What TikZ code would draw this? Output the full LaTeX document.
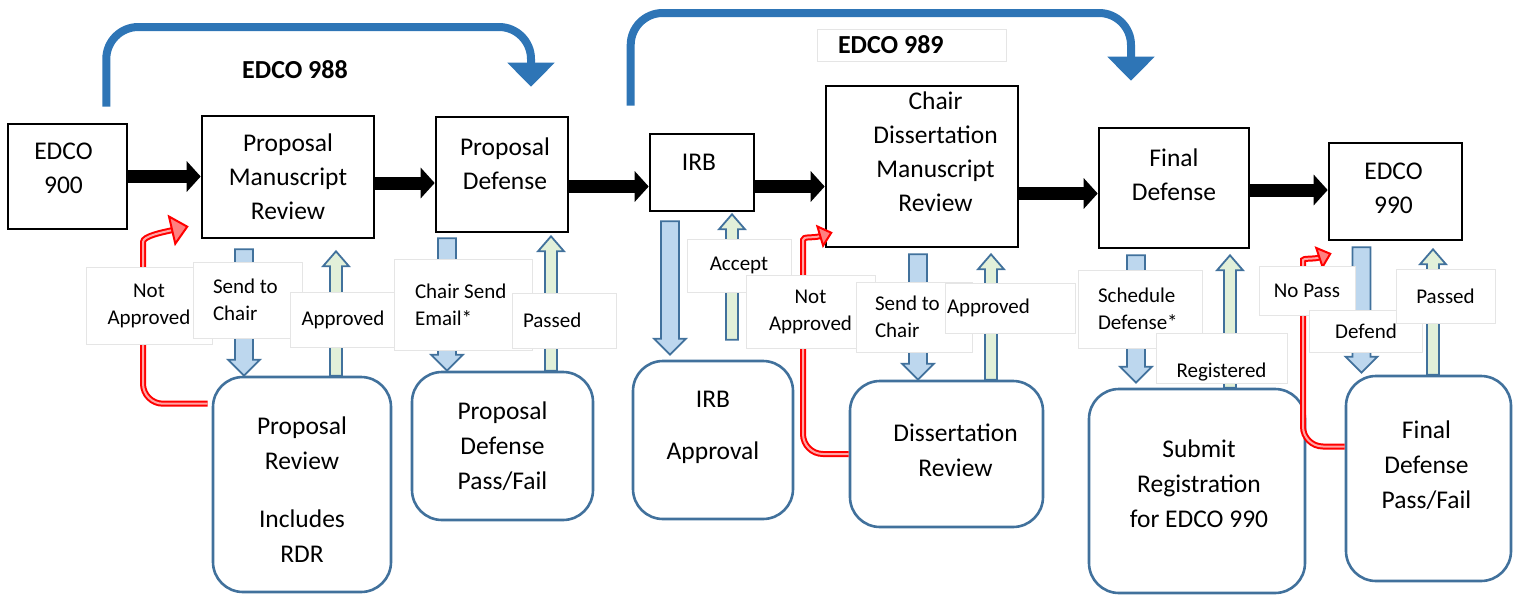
\documentclass[tikz,border=0pt]{standalone}
\usepackage{fontspec}
\setmainfont{Carlito}
\usetikzlibrary{arrows.meta,calc}
\definecolor{topblue}{HTML}{2E75B6}
\definecolor{edgeblue}{HTML}{41719C}
\definecolor{sendfill}{HTML}{BDD7EE}
\definecolor{backfill}{HTML}{E2F0D9}
\begin{document}
\begin{tikzpicture}[x=0.5pt, y=-0.5pt,
  stage/.style={draw, line width=1.3pt},
  stagetxt/.style={font=\fontsize{12.75}{17}\selectfont, align=center},
  task/.style={draw=edgeblue, line width=1.3pt, rounded corners=15pt},
  tasktxt/.style={font=\fontsize{12.75}{17.5}\selectfont, align=center},
  tag/.style={fill=white, draw=black!10, line width=0.4pt, inner sep=0pt, font=\fontsize{10.5}{13.5}\selectfont},
  flow/.style={line width=6.5pt, -{Triangle[length=7pt,width=15pt]}},
  jump/.style={draw=topblue, line width=4pt, rounded corners=16pt, -{Triangle[length=12pt,width=23pt]}},
  redo/.style={draw=red, line width=1pt, double=red!35, double distance=1pt, rounded corners=10pt, -{Triangle[length=7pt,width=12pt,fill=red!50]}},
  sendarrow/.style={draw=edgeblue, fill=sendfill, line width=0.9pt,
    to path={let \p1=(\tikztostart), \p2=(\tikztotarget) in
      (\x1-4.5pt,\y1) -- (\x1-4.5pt,\y2+8pt) -- (\x1-8pt,\y2+8pt) -- (\x1,\y2)
      -- (\x1+8pt,\y2+8pt) -- (\x1+4.5pt,\y2+8pt) -- (\x1+4.5pt,\y1) -- cycle}},
  backarrow/.style={draw=edgeblue, fill=backfill, line width=0.9pt,
    to path={let \p1=(\tikztostart), \p2=(\tikztotarget) in
      (\x1-3pt,\y1) -- (\x1-3pt,\y2-7.5pt) -- (\x1-6.5pt,\y2-7.5pt) -- (\x1,\y2)
      -- (\x1+6.5pt,\y2-7.5pt) -- (\x1+3pt,\y2-7.5pt) -- (\x1+3pt,\y1) -- cycle}}]
\useasboundingbox (0,0) rectangle (1517,595);

% black course boxes
\node[stage, minimum width=59.5pt, minimum height=52.5pt, label={[stagetxt,xshift=-2pt,yshift=4.25pt]center:EDCO\\900}] (e900) at (67.5,176.5) {};
\node[stage, minimum width=86pt, minimum height=61pt, label={[stagetxt]center:Proposal\\Manuscript\\Review}] (pmr) at (288,177) {};
\node[stage, minimum width=66pt, minimum height=57.5pt, label={[stagetxt,xshift=1.5pt,yshift=5.5pt]center:Proposal\\Defense}] (pd) at (502,174.5) {};
\node[stage, minimum width=52pt, minimum height=38.5pt, label={[stagetxt,xshift=-1.5pt,yshift=5.25pt]center:IRB}] (irb) at (702,172.5) {};
\node[stage, minimum width=96pt, minimum height=80.5pt, label={[stagetxt,xshift=6.75pt,yshift=7.25pt]center:Chair\\Dissertation\\Manuscript\\Review}] (cdm) at (922,166.5) {};
\node[stage, minimum width=75pt, minimum height=60pt, label={[stagetxt,yshift=6.75pt]center:Final\\Defense}] (fd) at (1174,188) {};
\node[stage, minimum width=66.5pt, minimum height=48.5pt, label={[stagetxt,xshift=-1pt,yshift=1.75pt]center:EDCO\\990}] (e990) at (1395.5,191.5) {};

% rounded review boxes
\node[task, minimum width=89pt, minimum height=107.5pt, label={[tasktxt,yshift=-2.5pt]center:Proposal\\Review\\[11.5pt]Includes\\RDR}] (prr) at (302,484.5) {};
\node[task, minimum width=90.5pt, minimum height=74pt, label={[tasktxt]center:Proposal\\Defense\\Pass/Fail}] (pdr) at (502.5,446) {};
\node[task, minimum width=80pt, minimum height=79pt, label={[tasktxt,yshift=6.5pt]center:IRB\\[8.5pt]Approval}] (irba) at (713,440) {};
\node[task, minimum width=96.5pt, minimum height=73pt, label={[tasktxt,xshift=4.5pt,yshift=2pt]center:Dissertation\\Review}] (dr) at (946.5,454) {};
\node[task, minimum width=108pt, minimum height=102pt, label={[tasktxt,xshift=1pt,yshift=3.5pt]center:Submit\\Registration\\for EDCO 990}] (sr) at (1197,491) {};
\node[task, minimum width=82.5pt, minimum height=102.5pt, label={[tasktxt,xshift=-1pt,yshift=6.5pt]center:Final\\Defense\\Pass/Fail}] (fdr) at (1428.5,478.5) {};

% course spans
\draw[jump] ([xshift=-11pt,yshift=8pt]e900.north east) |- (531,27) -- ([xshift=14.5pt,yshift=14.5pt]pd.north);
\draw[jump] ([xshift=-9pt,yshift=13.5pt]irb.north west) |- (1131,13) -- ([xshift=-21.5pt,yshift=23pt]fd.north);
\node[font=\bfseries\fontsize{13}{15}\selectfont] (t988) at (295,70) {EDCO 988};
\node[tag, font=\bfseries\fontsize{13}{15}\selectfont, minimum width=94.5pt, minimum height=16pt, text width=73.5pt, align=flush left] (t989) at (911.5,45) {EDCO 989};

% main flow
\draw[flow] (e900.east) -- (e900.east -| pmr.west);
\draw[flow] ([yshift=-3pt]pmr.east) -- ([yshift=-3pt]pmr.east -| pd.west);
\draw[flow] ([yshift=-6pt]pd.east) -- ([yshift=-6pt]pd.east -| irb.west);
\draw[flow] ([yshift=-7pt]irb.east) -- ([yshift=-7pt]irb.east -| cdm.west);
\draw[flow] ([yshift=-13.5pt]cdm.east) -- ([yshift=-13.5pt]cdm.east -| fd.west);
\draw[flow] ([yshift=-1pt]fd.east) -- ([yshift=-1pt]fd.east -| e990.west);

% down and back
\draw[sendarrow] ([xshift=-22pt,yshift=-5pt]pmr.south) to (prr.north);
\draw[sendarrow] ([xshift=-27.5pt,yshift=-2.5pt]pd.south) to (pdr.north);
\draw[sendarrow] ([xshift=-16pt,yshift=-4.5pt]irb.south) to ([yshift=2.5pt]irba.north);
\draw[sendarrow] ([xshift=-2pt,yshift=-3pt]cdm.south) to (dr.north);
\draw[sendarrow] ([xshift=-19pt,yshift=-3pt]fd.south) to ([yshift=2.5pt]sr.north);
\draw[sendarrow] ([xshift=-17pt,yshift=-3pt]e990.south) to ([yshift=1pt]fdr.north);
\draw[backarrow] ([xshift=17pt]prr.north) to ([yshift=-6pt]pmr.south);
\draw[backarrow] ([xshift=24.25pt]pdr.north) to ([yshift=-1.5pt]pd.south);
\draw[backarrow] ([xshift=9.5pt,yshift=10pt]irba.north) to ([yshift=-1pt]irb.south);
\draw[backarrow] ([xshift=22.25pt]dr.north) to ([yshift=-3pt]cdm.south);
\draw[backarrow] ([xshift=16.5pt]sr.north) to ([yshift=-3pt]fd.south);
\draw[backarrow] ([xshift=2.25pt]fdr.north) to ([yshift=-4pt]e990.south);

% not approved loops
\draw[redo, -{Triangle[length=9pt,width=16pt,fill=red!50]}] ([xshift=-2pt,yshift=-14pt]prr.north west) -| (143,262) .. controls +(0,-26) and +(-26,6) .. ([xshift=-6pt,yshift=6.5pt]pmr.south west);
\draw[redo] (dr.west) -| (803,260) .. controls +(0,-24) and +(-20,6) .. ([xshift=4pt,yshift=8pt]cdm.south west);
\draw[redo] ([yshift=16pt]fdr.west) -| (1303,280) .. controls +(0,-22) and +(-18,6) .. ([xshift=2pt,yshift=-6pt]e990.south west);

% arrow labels
\node[tag, minimum width=63pt, minimum height=38.5pt, align=center] (na1) at (149,305.5) {Not\\Approved};
\node[tag, minimum width=54.5pt, minimum height=38pt, text width=34.5pt, align=flush left] (sc1) at (247.5,300) {Send to\\Chair};
\node[tag, minimum width=52.5pt, minimum height=27.5pt] (ap1) at (343,319.5) {Approved};
\node[tag, minimum width=69pt, minimum height=45.5pt, text width=48pt, align=flush left] (cs1) at (463,304.5) {Chair Send\\Email*};
\node[tag, minimum width=52pt, minimum height=27.5pt, text width=41pt, align=flush left] (ps1) at (564,320.5) {Passed};
\node[tag, minimum width=52pt, minimum height=26.5pt] (acc) at (739,265.5) {Accept};
\node[tag, minimum width=64.5pt, minimum height=36.5pt, align=center] (na2) at (810.5,311.5) {Not\\Approved};
\node[tag, minimum width=58pt, minimum height=35pt, text width=39pt, align=flush left] (sc2) at (914,317) {Send to\\Chair};
\node[tag, minimum width=65pt, minimum height=25pt, text width=63pt, align=flush left] (ap2) at (1010,308) {Approved};
\node[tag, minimum width=62pt, minimum height=39pt, text width=42pt, align=flush left] (sd) at (1140,309) {Schedule\\Defense*};
\node[tag, minimum width=65.5pt, minimum height=25pt, text height=21.5pt, text depth=2.5pt] (reg) at (1221.5,358) {Registered};
\node[tag, minimum width=48pt, minimum height=24.5pt] (np) at (1307,290.5) {No Pass};
\node[tag, minimum width=56.5pt, minimum height=21pt] (dfd) at (1366,331) {Defend};
\node[tag, minimum width=49.5pt, minimum height=27pt] (ps2) at (1445.5,296) {Passed};
\end{tikzpicture}
\end{document}
